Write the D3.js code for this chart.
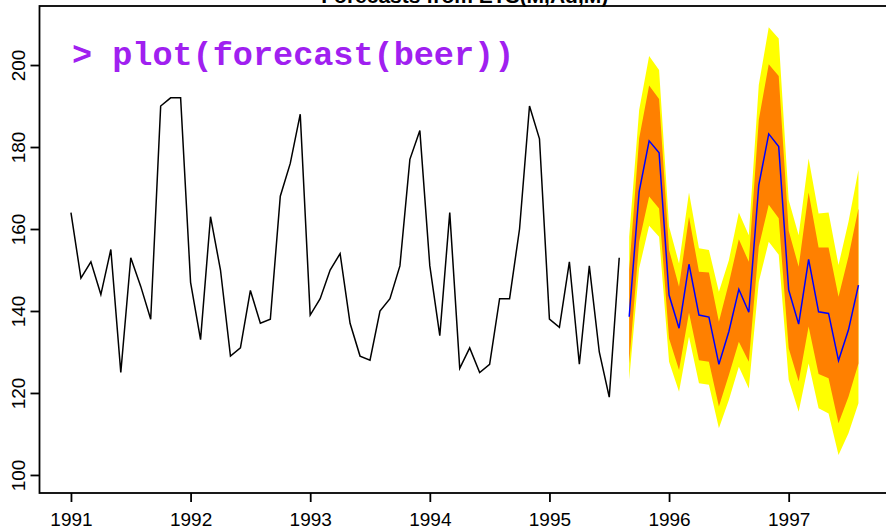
<!DOCTYPE html>
<html>
<head>
<meta charset="utf-8">
<script src="https://cdn.jsdelivr.net/npm/d3@7"></script>
<style>
  body { margin: 0; background: #ffffff; }
  svg { display: block; }
  .tick text { font-family: "Liberation Sans", Arial, sans-serif; }
</style>
</head>
<body>
<div id="vis"></div>
<script>
// monthly beer production, Jan 1991 - Aug 1995
var beerStart = 1991;
var beer = [
  164, 148, 152, 144, 155, 125, 153, 146, 138, 190, 192, 192,
  147, 133, 163, 150, 129, 131, 145, 137, 138, 168, 176, 188,
  139, 143, 150, 154, 137, 129, 128, 140, 143, 151, 177, 184,
  151, 134, 164, 126, 131, 125, 127, 143, 143, 160, 190, 182,
  138, 136, 152, 127, 151, 130, 119, 153
];

// forecasts Sep 1995 - Aug 1997
var fcStart = 1995 + 8 / 12;
var fcMean = [138.6, 169.1, 181.5, 178.6, 143.9, 135.8, 151.4, 139.0, 138.5, 127.0, 135.0, 145.3,
              139.7, 170.7, 183.2, 180.1, 145.1, 136.8, 152.6, 139.8, 139.4, 127.9, 135.4, 146.3];
var lo80 = [127.2, 156.9, 167.9, 165.0, 133.3, 125.6, 139.6, 128.0, 127.6, 116.7, 124.4, 132.5,
            127.6, 155.7, 165.9, 162.6, 130.9, 122.8, 136.2, 124.6, 123.6, 112.6, 119.1, 127.2];
var hi80 = [150.0, 182.1, 195.0, 191.7, 154.9, 145.9, 163.0, 149.6, 149.4, 137.4, 146.8, 157.5,
            152.0, 186.6, 200.2, 197.3, 159.6, 150.8, 168.9, 155.5, 155.5, 143.5, 153.3, 165.0];
var lo95 = [123.2, 150.4, 160.8, 158.1, 127.6, 120.3, 133.7, 122.4, 122.0, 111.4, 118.3, 126.4,
            121.1, 147.1, 156.9, 153.7, 123.2, 115.4, 127.2, 116.3, 115.0, 104.9, 110.2, 117.5];
var hi95 = [158.1, 189.0, 202.2, 198.8, 160.6, 151.6, 168.9, 155.3, 154.9, 144.7, 152.4, 164.0,
            158.5, 195.1, 209.2, 206.5, 167.1, 158.5, 177.2, 163.8, 164.0, 151.2, 161.8, 174.4];

var xTicks = [1991, 1992, 1993, 1994, 1995, 1996, 1997];
var yTicks = [100, 120, 140, 160, 180, 200];

var titleText = "Forecasts from ETS(M,Ad,M)";
var noteText = "> plot(forecast(beer))";

var width = 886, height = 528;
var plot = {left: 39.5, right: 890, top: 6, bottom: 493};

var svg = d3.select("#vis").append("svg")
    .attr("width", width)
    .attr("height", height);

svg.append("rect").attr("width", width).attr("height", height).attr("fill", "#ffffff");

var x = d3.scaleLinear().domain([1990.737, 1997.847]).range([plot.left, plot.right]);
var y = d3.scaleLinear().domain([95.6, 214.4]).range([plot.bottom, plot.top]);

var hist = beer.map(function(v, i){ return {t: beerStart + i / 12, v: v}; });
var fc = fcMean.map(function(v, i){
    return {t: fcStart + i / 12, m: v, l80: lo80[i], h80: hi80[i], l95: lo95[i], h95: hi95[i]};
});

// shaded prediction intervals
svg.append("path")
    .datum(fc)
    .attr("fill", "#ffff00")
    .attr("d", d3.area().x(function(d){ return x(d.t); })
        .y0(function(d){ return y(d.l95); })
        .y1(function(d){ return y(d.h95); }));

svg.append("path")
    .datum(fc)
    .attr("fill", "#ff8000")
    .attr("d", d3.area().x(function(d){ return x(d.t); })
        .y0(function(d){ return y(d.l80); })
        .y1(function(d){ return y(d.h80); }));

svg.append("path")
    .datum(hist)
    .attr("fill", "none")
    .attr("stroke", "#000000")
    .attr("stroke-width", 1.5)
    .attr("d", d3.line().x(function(d){ return x(d.t); }).y(function(d){ return y(d.v); }));

svg.append("path")
    .datum(fc)
    .attr("fill", "none")
    .attr("stroke", "#0000ff")
    .attr("stroke-width", 1.5)
    .attr("d", d3.line().x(function(d){ return x(d.t); }).y(function(d){ return y(d.m); }));

// box
svg.append("rect")
    .attr("x", plot.left).attr("y", plot.top)
    .attr("width", plot.right - plot.left).attr("height", plot.bottom - plot.top)
    .attr("fill", "none").attr("stroke", "#000000").attr("stroke-width", 1.8);

// axes
var xAxis = svg.append("g")
    .attr("transform", "translate(0," + plot.bottom + ")")
    .call(d3.axisBottom(x).tickValues(xTicks).tickFormat(d3.format("d")).tickSizeInner(9).tickSizeOuter(0).tickPadding(11));
xAxis.select(".domain").remove();
xAxis.selectAll("line").attr("stroke-width", 1.8);
xAxis.selectAll("text").attr("font-size", "19px").attr("fill", "#000");

var yAxis = svg.append("g")
    .attr("transform", "translate(" + plot.left + ",0)")
    .call(d3.axisLeft(y).tickValues(yTicks).tickSizeInner(9).tickSizeOuter(0));
yAxis.select(".domain").remove();
yAxis.selectAll("line").attr("stroke-width", 1.8);
yAxis.selectAll("text")
    .attr("font-size", "19px").attr("fill", "#000")
    .attr("text-anchor", "middle")
    .attr("x", null).attr("dy", null)
    .attr("transform", "translate(-14.5,0) rotate(-90)");

// title, clipped by the top of the window
svg.append("text")
    .attr("x", (plot.left + plot.right) / 2)
    .attr("y", 3)
    .attr("text-anchor", "middle")
    .attr("font-family", "Liberation Sans, Arial, sans-serif")
    .attr("font-weight", "bold")
    .attr("font-size", "21px")
    .text(titleText);

svg.append("text")
    .attr("x", 72)
    .attr("y", 65)
    .attr("font-family", "Liberation Mono, Courier New, monospace")
    .attr("font-weight", "bold")
    .attr("font-size", "33.5px")
    .attr("fill", "#a020f0")
    .text(noteText);
</script>
</body>
</html>
